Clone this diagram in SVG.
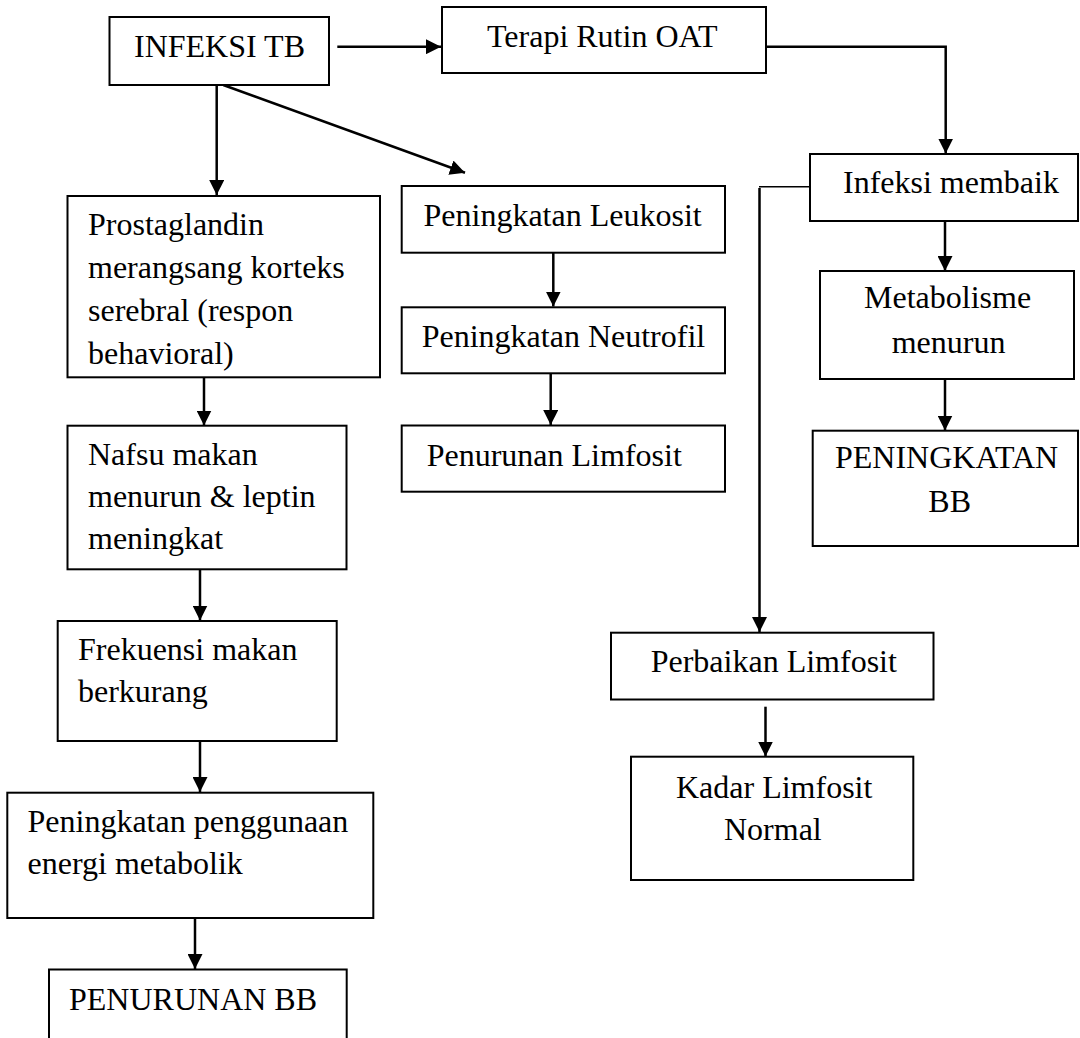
<svg xmlns="http://www.w3.org/2000/svg" width="1080" height="1038" viewBox="0 0 1080 1038">
<style>
.box{fill:#fff;stroke:#000;stroke-width:2}
.t{font-family:"Liberation Serif","Times New Roman",serif;font-size:32px;fill:#000}
.c{fill:none;stroke:#000;stroke-width:2.5}
.thin{fill:none;stroke:#000;stroke-width:1.6}
</style>
<defs>
<marker id="ah" markerUnits="userSpaceOnUse" markerWidth="16" markerHeight="15" refX="15" refY="7.5" orient="auto">
<path d="M0,0 L15,7.5 L0,15 Z" fill="#000"/>
</marker>
</defs>
<rect width="1080" height="1038" fill="#fff"/>
<g id="connectors">
<line class="c" x1="337.3" y1="46.7" x2="441" y2="46.7" marker-end="url(#ah)"/>
<line class="c" x1="216.7" y1="85" x2="216.7" y2="195" marker-end="url(#ah)"/>
<line class="c" x1="223.3" y1="85" x2="465" y2="172.7" marker-end="url(#ah)"/>
<polyline class="c" points="766,46.7 945.7,46.7 945.7,153.5" marker-end="url(#ah)"/>
<line class="c" x1="945" y1="221" x2="945" y2="271" marker-end="url(#ah)"/>
<line class="c" x1="945" y1="380" x2="945" y2="430.5" marker-end="url(#ah)"/>
<polyline class="thin" points="812,186.7 759,186.7"/>
<line class="c" x1="759.5" y1="188" x2="759.5" y2="632" marker-end="url(#ah)"/>
<line class="c" x1="765.5" y1="706.7" x2="765.5" y2="756.5" marker-end="url(#ah)"/>
<line class="c" x1="553.3" y1="253" x2="553.3" y2="306.5" marker-end="url(#ah)"/>
<line class="c" x1="550.7" y1="373.5" x2="550.7" y2="425" marker-end="url(#ah)"/>
<line class="c" x1="204" y1="377.3" x2="204" y2="425.5" marker-end="url(#ah)"/>
<line class="c" x1="200" y1="569.3" x2="200" y2="620.5" marker-end="url(#ah)"/>
<line class="c" x1="200" y1="741" x2="200" y2="792" marker-end="url(#ah)"/>
<line class="c" x1="195" y1="918" x2="195" y2="969" marker-end="url(#ah)"/>
</g>
<g id="n1"><rect class="box" x="109.5" y="17" width="219.5" height="68"/><text class="t" x="134" y="57">INFEKSI TB</text></g>
<g id="n2"><rect class="box" x="442" y="7" width="324" height="66"/><text class="t" x="487" y="47">Terapi Rutin OAT</text></g>
<g id="n3"><rect class="box" x="810" y="154" width="268" height="67"/><text class="t" x="843" y="193">Infeksi membaik</text></g>
<g id="n4"><rect class="box" x="67.5" y="196" width="312.5" height="181.3"/>
<text class="t" x="88" y="235">Prostaglandin</text>
<text class="t" x="88" y="278">merangsang korteks</text>
<text class="t" x="88" y="321">serebral (respon</text>
<text class="t" x="88" y="364">behavioral)</text></g>
<g id="n5"><rect class="box" x="67.5" y="425.7" width="279" height="143.6"/>
<text class="t" x="88" y="465">Nafsu makan</text>
<text class="t" x="88" y="507">menurun &amp; leptin</text>
<text class="t" x="88" y="549">meningkat</text></g>
<g id="n6"><rect class="box" x="57.7" y="621" width="279" height="120"/>
<text class="t" x="78" y="660">Frekuensi makan</text>
<text class="t" x="78" y="702">berkurang</text></g>
<g id="n7"><rect class="box" x="7.3" y="792.7" width="366" height="125.3"/>
<text class="t" x="27.5" y="831.7">Peningkatan penggunaan</text>
<text class="t" x="27.5" y="873.5">energi metabolik</text></g>
<g id="n8"><rect class="box" x="49" y="969.5" width="297.7" height="100"/>
<text class="t" x="69" y="1010">PENURUNAN BB</text></g>
<g id="n9"><rect class="box" x="401.7" y="186" width="323.3" height="66.7"/><text class="t" x="423.5" y="226">Peningkatan Leukosit</text></g>
<g id="n10"><rect class="box" x="401.7" y="307.3" width="323.3" height="66"/><text class="t" x="421.7" y="346.7">Peningkatan Neutrofil</text></g>
<g id="n11"><rect class="box" x="401.7" y="425.5" width="323.3" height="66.2"/><text class="t" x="426.7" y="466">Penurunan Limfosit</text></g>
<g id="n12"><rect class="box" x="820" y="271" width="254" height="108"/>
<text class="t" x="864" y="308.3">Metabolisme</text>
<text class="t" x="891.7" y="353.3">menurun</text></g>
<g id="n13"><rect class="box" x="812.7" y="430.7" width="265.3" height="115.3"/>
<text class="t" x="835" y="468.3">PENINGKATAN</text>
<text class="t" x="928.3" y="512.3">BB</text></g>
<g id="n14"><rect class="box" x="611" y="632.7" width="322.5" height="66.8"/><text class="t" x="650.7" y="671.7">Perbaikan Limfosit</text></g>
<g id="n15"><rect class="box" x="631" y="756.7" width="282.3" height="123.3"/>
<text class="t" x="676" y="798.3">Kadar Limfosit</text>
<text class="t" x="724" y="840">Normal</text></g>
</svg>
